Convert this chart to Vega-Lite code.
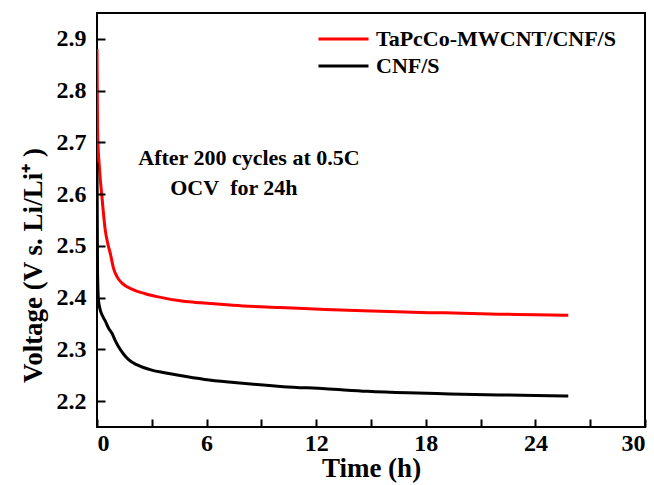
{
  "$schema": "https://vega.github.io/schema/vega-lite/v6.json",
  "width": 548,
  "height": 414,
  "autosize": "none",
  "padding": {"left": 97, "top": 13, "right": 9, "bottom": 58},
  "background": "white",
  "config": {
    "font": "Liberation Serif",
    "view": {"stroke": "black", "strokeWidth": 2},
    "axis": {
      "grid": false,
      "domain": false,
      "tickColor": "black",
      "tickWidth": 2,
      "tickSize": 8,
      "labelFont": "Liberation Serif",
      "labelFontWeight": "bold",
      "labelFontSize": 24,
      "labelColor": "black",
      "titleFont": "Liberation Serif",
      "titleFontWeight": "bold",
      "titleFontSize": 27,
      "titleColor": "black"
    }
  },
  "datasets": {
    "ocv": [
      {"series": "TaPcCo-MWCNT/CNF/S", "time": 0, "voltage": 2.88},
      {"series": "TaPcCo-MWCNT/CNF/S", "time": 0.03, "voltage": 2.724},
      {"series": "TaPcCo-MWCNT/CNF/S", "time": 0.14, "voltage": 2.647},
      {"series": "TaPcCo-MWCNT/CNF/S", "time": 0.27, "voltage": 2.595},
      {"series": "TaPcCo-MWCNT/CNF/S", "time": 0.45, "voltage": 2.531},
      {"series": "TaPcCo-MWCNT/CNF/S", "time": 0.6, "voltage": 2.503},
      {"series": "TaPcCo-MWCNT/CNF/S", "time": 0.73, "voltage": 2.485},
      {"series": "TaPcCo-MWCNT/CNF/S", "time": 0.91, "voltage": 2.456},
      {"series": "TaPcCo-MWCNT/CNF/S", "time": 1.1, "voltage": 2.440},
      {"series": "TaPcCo-MWCNT/CNF/S", "time": 1.37, "voltage": 2.428},
      {"series": "TaPcCo-MWCNT/CNF/S", "time": 2.0, "voltage": 2.415},
      {"series": "TaPcCo-MWCNT/CNF/S", "time": 2.6, "voltage": 2.408},
      {"series": "TaPcCo-MWCNT/CNF/S", "time": 3.28, "voltage": 2.402},
      {"series": "TaPcCo-MWCNT/CNF/S", "time": 4.74, "voltage": 2.393},
      {"series": "TaPcCo-MWCNT/CNF/S", "time": 5.7, "voltage": 2.390},
      {"series": "TaPcCo-MWCNT/CNF/S", "time": 6.75, "voltage": 2.387},
      {"series": "TaPcCo-MWCNT/CNF/S", "time": 8, "voltage": 2.384},
      {"series": "TaPcCo-MWCNT/CNF/S", "time": 10, "voltage": 2.381},
      {"series": "TaPcCo-MWCNT/CNF/S", "time": 12.5, "voltage": 2.377},
      {"series": "TaPcCo-MWCNT/CNF/S", "time": 15, "voltage": 2.374},
      {"series": "TaPcCo-MWCNT/CNF/S", "time": 18.2, "voltage": 2.371},
      {"series": "TaPcCo-MWCNT/CNF/S", "time": 20, "voltage": 2.370},
      {"series": "TaPcCo-MWCNT/CNF/S", "time": 22, "voltage": 2.368},
      {"series": "TaPcCo-MWCNT/CNF/S", "time": 24, "voltage": 2.367},
      {"series": "TaPcCo-MWCNT/CNF/S", "time": 25.8, "voltage": 2.366},
      {"series": "CNF/S", "time": 0, "voltage": 2.66},
      {"series": "CNF/S", "time": 0.03, "voltage": 2.45},
      {"series": "CNF/S", "time": 0.08, "voltage": 2.395},
      {"series": "CNF/S", "time": 0.18, "voltage": 2.376},
      {"series": "CNF/S", "time": 0.3, "voltage": 2.365},
      {"series": "CNF/S", "time": 0.45, "voltage": 2.355},
      {"series": "CNF/S", "time": 0.65, "voltage": 2.340},
      {"series": "CNF/S", "time": 0.82, "voltage": 2.331},
      {"series": "CNF/S", "time": 1.0, "voltage": 2.317},
      {"series": "CNF/S", "time": 1.18, "voltage": 2.305},
      {"series": "CNF/S", "time": 1.45, "voltage": 2.291},
      {"series": "CNF/S", "time": 1.73, "voltage": 2.280},
      {"series": "CNF/S", "time": 2.2, "voltage": 2.270},
      {"series": "CNF/S", "time": 3.0, "voltage": 2.260},
      {"series": "CNF/S", "time": 3.7, "voltage": 2.255},
      {"series": "CNF/S", "time": 4.47, "voltage": 2.250},
      {"series": "CNF/S", "time": 5.9, "voltage": 2.242},
      {"series": "CNF/S", "time": 7.5, "voltage": 2.236},
      {"series": "CNF/S", "time": 10.2, "voltage": 2.228},
      {"series": "CNF/S", "time": 12.5, "voltage": 2.224},
      {"series": "CNF/S", "time": 14.8, "voltage": 2.219},
      {"series": "CNF/S", "time": 17, "voltage": 2.216},
      {"series": "CNF/S", "time": 19.3, "voltage": 2.214},
      {"series": "CNF/S", "time": 22, "voltage": 2.212},
      {"series": "CNF/S", "time": 24, "voltage": 2.211},
      {"series": "CNF/S", "time": 25.8, "voltage": 2.210}
    ]
  },
  "layer": [
    {
      "data": {"name": "ocv"},
      "mark": {"type": "line", "strokeWidth": 3, "interpolate": "monotone", "clip": true},
      "encoding": {
        "x": {
          "field": "time",
          "type": "quantitative",
          "scale": {"domain": [0, 30], "nice": false, "zero": false},
          "axis": {
            "orient": "bottom",
            "offset": -8,
            "zindex": 1,
            "values": [0, 3, 6, 9, 12, 15, 18, 21, 24, 27, 30],
            "labelExpr": "datum.value % 6 === 0 ? datum.label : ''",
            "labelPadding": 4,
            "title": "Time (h)",
            "titleX": 274,
            "titleY": 57,
            "titleBaseline": "alphabetic",
            "encode": {"ticks": {"update": {"y": {"signal": "datum.value % 6 === 0 ? 0 : 4"}}}}
          }
        },
        "y": {
          "field": "voltage",
          "type": "quantitative",
          "scale": {"domain": [2.15, 2.95], "nice": false, "zero": false},
          "axis": {
            "orient": "left",
            "offset": -8,
            "zindex": 1,
            "values": [2.2, 2.25, 2.3, 2.35, 2.4, 2.45, 2.5, 2.55, 2.6, 2.65, 2.7, 2.75, 2.8, 2.85, 2.9],
            "format": ".1f",
            "labelExpr": "round(datum.value * 100) % 10 === 0 ? datum.label : ''",
            "labelPadding": 11,
            "title": "Voltage (V s. Li/Li⁺ )",
            "titleAngle": -90,
            "titleX": -64,
            "titleY": 252,
            "titleBaseline": "alphabetic",
            "encode": {"ticks": {"update": {"x": {"signal": "round(datum.value * 100) % 10 === 0 ? 0 : -4"}}}}
          }
        },
        "color": {
          "field": "series",
          "type": "nominal",
          "sort": ["TaPcCo-MWCNT/CNF/S", "CNF/S"],
          "scale": {"domain": ["TaPcCo-MWCNT/CNF/S", "CNF/S"], "range": ["#ff0000", "#000000"]},
          "legend": {
            "title": null,
            "orient": "none",
            "legendX": 220,
            "legendY": 13,
            "padding": 0,
            "symbolType": "stroke",
            "symbolSize": 2500,
            "symbolStrokeWidth": 3,
            "labelFont": "Liberation Serif",
            "labelFontWeight": "bold",
            "labelFontSize": 22,
            "labelColor": "black",
            "labelOffset": 6,
            "labelLimit": 400,
            "clipHeight": 26,
            "rowPadding": 1
          }
        }
      }
    },
    {
      "data": {"values": [{}]},
      "mark": {"type": "text", "text": "After 200 cycles at 0.5C", "align": "left", "baseline": "alphabetic", "font": "Liberation Serif", "fontWeight": "bold", "fontSize": 22, "color": "black"},
      "encoding": {
        "x": {"datum": 2.26, "type": "quantitative"},
        "y": {"datum": 2.656, "type": "quantitative"}
      }
    },
    {
      "data": {"values": [{}]},
      "mark": {"type": "text", "text": "OCV\u00a0 for 24h", "align": "left", "baseline": "alphabetic", "font": "Liberation Serif", "fontWeight": "bold", "fontSize": 22, "color": "black"},
      "encoding": {
        "x": {"datum": 4.01, "type": "quantitative"},
        "y": {"datum": 2.598, "type": "quantitative"}
      }
    }
  ]
}
